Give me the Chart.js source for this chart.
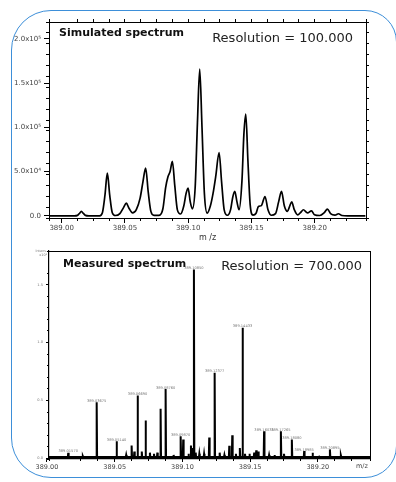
<!DOCTYPE html>
<html>
<head>
<meta charset="utf-8">
<script src="https://cdn.jsdelivr.net/npm/chart.js@4.4.1/dist/chart.umd.min.js"></script>
<style>
  body{margin:0;background:#fff;width:396px;height:482px;overflow:hidden;position:relative;}
  #frame{position:absolute;left:11px;top:10px;width:386px;height:468px;box-sizing:border-box;
         border:1.5px solid #3d8fd9;border-radius:40px 32px 32px 40px;}
  canvas{position:absolute;left:0;}
  #sim{top:0;}
  #meas{top:245px;}
</style>
</head>
<body>
<div id="frame"></div>
<canvas id="sim" width="396" height="245"></canvas>
<canvas id="meas" width="396" height="237"></canvas>
<script>
// ---------------- DATA ----------------
// simulated trace (R = 100.000)
const simMz = [
  388.990, 389.0100, 389.0125, 389.0140, 389.0156, 389.0172, 389.0188, 389.0215,
  389.0300, 389.0322, 389.0342, 389.0361, 389.0380, 389.0400, 389.0425,
  389.0460, 389.0490, 389.0511, 389.0532, 389.0560,
  389.0590, 389.0620, 389.0642, 389.0664, 389.0684, 389.0705, 389.0730,
  389.0770, 389.0800, 389.0822, 389.0840, 389.0857, 389.0875, 389.0894, 389.0914,
  389.0940, 389.0965, 389.0983, 389.0999, 389.1016, 389.1033,
  389.1055, 389.1073, 389.1091, 389.1109, 389.1128, 389.1150,
  389.1175, 389.1196, 389.1218, 389.1244, 389.1264, 389.1284, 389.1310,
  389.1335, 389.1352, 389.1368, 389.1385, 389.1402,
  389.1425, 389.1440, 389.1455, 389.1472, 389.1490, 389.1512,
  389.1535, 389.1555, 389.1578, 389.1607, 389.1630, 389.1655,
  389.1690, 389.1715, 389.1737, 389.1760, 389.1784, 389.1800, 389.1818, 389.1838, 389.1865,
  389.1890, 389.1910, 389.1943, 389.1974, 389.1998, 389.2040,
  389.2075, 389.2100, 389.2125, 389.2160, 389.2187, 389.2215, 389.2260, 389.2400
];
const simInt = [
  0, 0, 500, 2600, 4900, 2600, 500, 0,
  0, 3500, 23000, 48200, 23000, 3500, 300,
  2500, 9500, 14300, 8500, 3200,
  7000, 20000, 38000, 53900, 27000, 5000, 500,
  500, 8000, 32000, 44000, 50000, 61400, 34000, 7000,
  2000, 11000, 25000, 31300, 16000, 7900,
  32000, 105000, 165800, 100000, 25000, 3000,
  11000, 25000, 45000, 71500, 38000, 7000, 600,
  7000, 21000, 27500, 16000, 6800,
  40000, 92000, 114900, 62000, 12000, 800,
  2500, 10500, 11500, 21800, 7000, 600,
  2500, 16000, 27500, 11000, 4900, 10000, 15800, 7000, 1000,
  4000, 6800, 3300, 5650, 1200, 300,
  3500, 7600, 2500, 800, 2300, 300, 0, 0
];
const simXTicks = [389.00, 389.05, 389.10, 389.15, 389.20];
const simYTicks = [0, 50000, 100000, 150000, 200000];
const simYLabels = ["0.0", "5.0x10⁴", "1.0x10⁵", "1.5x10⁵", "2.0x10⁵"];

// measured peaks (R = 700.000), intensity x10^5
const peakMz = [
  389.0157, 389.0265, 389.0367, 389.0440, 389.0514, 389.0585, 389.0625, 389.0645,
  389.0669, 389.0700, 389.0728, 389.0760, 389.0790, 389.0815, 389.0839, 389.0876,
  389.0935, 389.0987, 389.1006, 389.1045, 389.1063, 389.1072, 389.1085, 389.1098,
  389.1125, 389.1160, 389.1198, 389.1238, 389.1275, 389.1310, 389.1346, 389.1368,
  389.1395, 389.1424, 389.1444, 389.1462, 389.1495, 389.1530, 389.1545, 389.1560,
  389.1603, 389.1640, 389.1680, 389.1727, 389.1750, 389.1808, 389.1850, 389.1899,
  389.1961, 389.2010, 389.2089, 389.2170
];
const peakInt = [
  0.049, 0.020, 0.485, 0.015, 0.149, 0.030, 0.112, 0.060,
  0.543, 0.060, 0.328, 0.050, 0.040, 0.050, 0.428, 0.600,
  0.030, 0.192, 0.164, 0.040, 0.112, 0.090, 1.630, 0.050,
  0.040, 0.040, 0.180, 0.739, 0.050, 0.030, 0.110, 0.200,
  0.040, 0.090, 1.127, 0.040, 0.040, 0.050, 0.070, 0.060,
  0.235, 0.030, 0.030, 0.235, 0.040, 0.164, 0.020, 0.063,
  0.049, 0.015, 0.078, 0.026
];
const peakLabel = [
  "389.01570", "", "389.03675", "", "389.05140", "", "", "",
  "389.06690", "", "", "", "", "", "", "389.08760",
  "", "389.09870", "", "", "", "", "389.10850", "",
  "", "", "", "389.12377", "", "", "", "",
  "", "", "389.14433", "", "", "", "", "",
  "389.16035", "", "", "389.17265", "", "389.18080", "", "389.18985",
  "", "", "389.20895", ""
];
const measBase = 0.012;
const measXTicks = [389.00, 389.05, 389.10, 389.15, 389.20];
const measYTicks = [0, 0.5, 1.0, 1.5];
const measYLabels = ["0.0", "0.5", "1.0", "1.5"];

// ---------------- HELPERS ----------------
const black = "#000";
const tickGrey = "#444";

function fixed(w, h){
  return s => { if(w !== null) s.width = w; if(h !== null) s.height = h; };
}
// extra axis that only draws tick marks (and maybe the frame line)
function minorAxis(position, min, max, step, len, showBorder){
  const vertical = position === "left" || position === "right";
  return {
    type: "linear", position, min, max, weight: 0,
    ticks: { display: false, stepSize: step },
    grid: { display: len > 0, drawOnChartArea: false, tickLength: len, color: black },
    border: { display: showBorder, color: black, width: 1 },
    afterFit: vertical ? fixed(0, null) : fixed(null, 0)
  };
}

const panelText = {
  id: "panelText",
  afterDatasetsDraw(chart, args, o){
    const {ctx, chartArea: a} = chart;
    ctx.save();
    ctx.fillStyle = "#111";
    ctx.textBaseline = "middle";
    ctx.font = "bold 11px 'DejaVu Sans'";
    ctx.textAlign = "left";
    ctx.fillText(o.title, a.left + o.titleAt[0], a.top + o.titleAt[1]);
    ctx.fillStyle = "#222";
    ctx.font = "13px 'DejaVu Sans'";
    ctx.textAlign = "right";
    ctx.fillText(o.res, a.right - o.resAt[0], a.top + o.resAt[1]);

    if(o.peaks){
      // little m/z labels over the peaks
      const x = chart.scales.x, y = chart.scales.y;
      ctx.fillStyle = "#777";
      ctx.font = "3.6px 'DejaVu Sans'";
      ctx.textAlign = "center";
      ctx.textBaseline = "bottom";
      peakLabel.forEach((t, i) => {
        if(!t) return;
        ctx.fillText(t, x.getPixelForValue(peakMz[i]), y.getPixelForValue(peakInt[i]) + 0.5);
      });
      // unit over the y axis
      ctx.textAlign = "right";
      ctx.textBaseline = "middle";
      ctx.font = "3.4px 'DejaVu Sans'";
      ctx.fillText("Intens.", a.left - 2, a.top + 0.5);
      ctx.fillText("x10⁵", a.left - 2, a.top + 4.5);
      // m/z at the end of the axis
      ctx.fillStyle = tickGrey;
      ctx.font = "6.5px 'DejaVu Sans'";
      ctx.textAlign = "center";
      ctx.fillText("m/z", a.right - 8, a.bottom + 7.5);
    }
    ctx.restore();
  }
};

function stickTrace(){
  const pts = [{x: 389.0, y: measBase}];
  peakMz.forEach((m, i) => {
    pts.push({x: m - 0.0003, y: measBase});
    pts.push({x: m, y: peakInt[i]});
    pts.push({x: m + 0.0003, y: measBase});
  });
  pts.push({x: 389.24, y: measBase});
  return pts;
}

// ---------------- SIMULATED ----------------
const sxMin = 388.99, sxMax = 389.2405, syMin = -2500, syMax = 219000;

new Chart(document.getElementById("sim"), {
  type: "line",
  data: {
    datasets: [{
      data: simMz.map((m, i) => ({x: m, y: simInt[i]})),
      borderColor: black, borderWidth: 1.7, pointRadius: 0,
      cubicInterpolationMode: "monotone", fill: false
    }]
  },
  options: {
    responsive: false, animation: false, devicePixelRatio: 1,
    layout: { padding: { top: 22, right: 30, left: 0, bottom: 0 } },
    plugins: {
      legend: { display: false }, tooltip: { enabled: false },
      panelText: { title: "Simulated spectrum", res: "Resolution = 100.000", titleAt: [10, 11], resAt: [13, 16.5] }
    },
    scales: {
      x: {
        type: "linear", position: "bottom", min: sxMin, max: sxMax, weight: 10,
        afterBuildTicks: s => { s.ticks = simXTicks.map(v => ({value: v})); },
        ticks: { autoSkip: false, maxRotation: 0, padding: 1, color: tickGrey,
                 font: { family: "DejaVu Sans", size: 7 }, callback: v => v.toFixed(2) },
        grid: { drawOnChartArea: false, tickLength: 5, color: black },
        border: { color: black, width: 1 },
        title: { display: true, text: "m /z", color: "#333", font: { family: "DejaVu Sans", size: 8 },
                 padding: { top: 0, bottom: 2.2 } },
        afterFit: fixed(null, 27)
      },
      xMinor: minorAxis("bottom", sxMin, sxMax, 0.0125, 3, false),
      xTop: minorAxis("top", sxMin, sxMax, 0.0125, 3, true),
      y: {
        type: "linear", position: "left", min: syMin, max: syMax, weight: 10,
        afterBuildTicks: s => { s.ticks = simYTicks.map(v => ({value: v})); },
        ticks: { autoSkip: false, padding: 3, color: tickGrey, font: { family: "DejaVu Sans", size: 7 },
                 callback: v => simYLabels[simYTicks.indexOf(v)] },
        grid: { drawOnChartArea: false, tickLength: 5, color: black },
        border: { color: black, width: 1 },
        afterFit: fixed(49, null)
      },
      yMinor: minorAxis("left", syMin, syMax, 12500, 3, false),
      yRight: minorAxis("right", syMin, syMax, 12500, 3, true)
    }
  },
  plugins: [panelText]
});

// ---------------- MEASURED ----------------
const mxMin = 389.0015, mxMax = 389.2385, myMin = -0.005, myMax = 1.79;

new Chart(document.getElementById("meas"), {
  type: "line",
  data: {
    datasets: [{
      data: stickTrace(),
      borderColor: black, borderWidth: 2, pointRadius: 0, tension: 0, fill: false
    }]
  },
  options: {
    responsive: false, animation: false, devicePixelRatio: 1,
    layout: { padding: { top: 6, right: 26, left: 0, bottom: 0 } },
    plugins: {
      legend: { display: false }, tooltip: { enabled: false },
      panelText: { title: "Measured spectrum", res: "Resolution = 700.000", titleAt: [14, 13], resAt: [8, 16], peaks: true }
    },
    scales: {
      x: {
        type: "linear", position: "bottom", min: mxMin, max: mxMax, weight: 10,
        afterBuildTicks: s => { s.ticks = measXTicks.map(v => ({value: v})); },
        ticks: { autoSkip: false, maxRotation: 0, padding: 1, color: tickGrey,
                 font: { family: "DejaVu Sans", size: 6.5 }, callback: v => v.toFixed(2) },
        grid: { drawOnChartArea: false, tickLength: 3, color: black },
        border: { color: black, width: 1.2 },
        afterFit: fixed(null, 23)
      },
      xMinor: minorAxis("bottom", mxMin, mxMax, 0.0125, 2, false),
      xTop: minorAxis("top", mxMin, mxMax, 0.0125, 0, true),
      y: {
        type: "linear", position: "left", min: myMin, max: myMax, weight: 10,
        afterBuildTicks: s => { s.ticks = measYTicks.map(v => ({value: v})); },
        ticks: { autoSkip: false, padding: 3, color: "#777", font: { family: "DejaVu Sans", size: 3.6 },
                 callback: v => measYLabels[measYTicks.indexOf(v)] },
        grid: { drawOnChartArea: false, tickLength: 3, color: black },
        border: { color: black, width: 1.2 },
        afterFit: fixed(49, null)
      },
      yMinor: minorAxis("left", myMin, myMax, 0.1, 2, false),
      yRight: minorAxis("right", myMin, myMax, 0.1, 0, true)
    }
  },
  plugins: [panelText]
});
</script>
</body>
</html>
